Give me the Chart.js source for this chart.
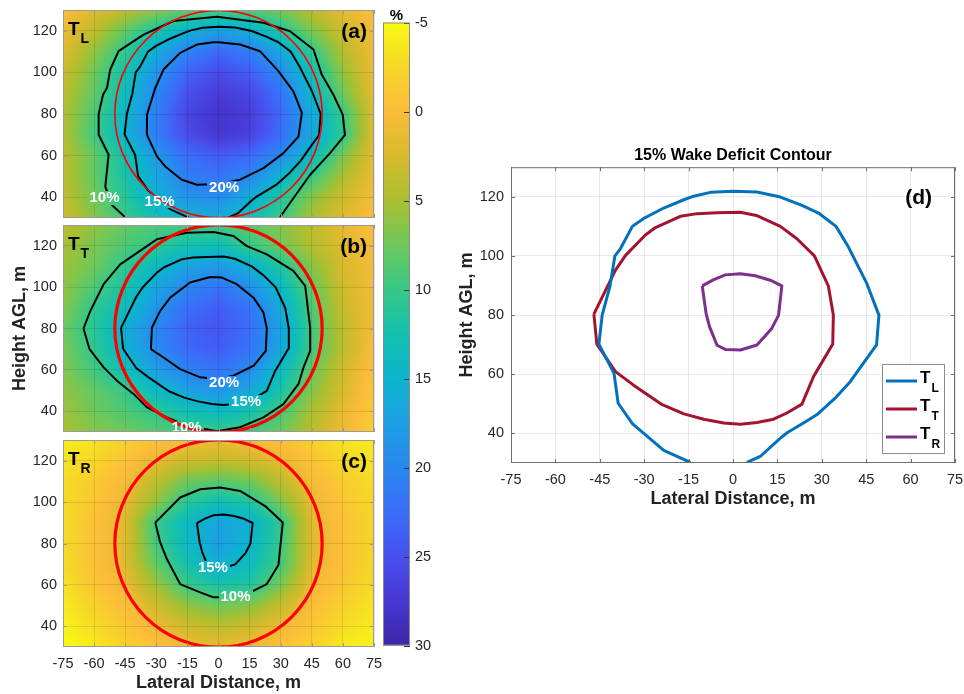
<!DOCTYPE html>
<html>
<head>
<meta charset="utf-8">
<script src="https://cdn.jsdelivr.net/npm/chart.js@4.4.1/dist/chart.umd.min.js"></script>
<style>
    body { margin: 0; background: #fff; }
    #wrap { position: relative; width: 964px; height: 694px; overflow: hidden; }
    canvas { position: absolute; }
</style>
</head>
<body>
<div id="wrap">
    <canvas id="pa" width="386" height="230" style="left:0;top:0"></canvas>
    <canvas id="pb" width="386" height="229" style="left:0;top:215px"></canvas>
    <canvas id="pc" width="386" height="264" style="left:0;top:430px"></canvas>
    <canvas id="cb" width="70" height="694" style="left:370px;top:0"></canvas>
    <canvas id="pd" width="514" height="370" style="left:450px;top:140px"></canvas>
</div>
<script>
const xTicks = [-75, -60, -45, -30, -15, 0, 15, 30, 45, 60, 75]
const yTicks = [40, 60, 80, 100, 120]
const cbTicks = [-5, 0, 5, 10, 15, 20, 25, 30]

// rotor disc
const hubX = 0, hubHeight = 80, rotorRadius = 50

// nodes of the deficit maps (%), rows from top (130 m) to bottom (30 m)
const gridX = [-75, -60, -45, -30, -15, 0, 15, 30, 45, 60, 75]
const gridY = [130, 120, 110, 100, 90, 80, 70, 60, 50, 40, 30]

const deficitL = [
    [0, 2, 4, 6, 8, 9, 8.5, 7, 4, 1.5, 0],
    [1, 4, 8, 12, 15, 17.5, 15.5, 11.5, 7, 3, 0.5],
    [2, 6, 10.5, 16, 20.5, 23, 21, 16.5, 10.5, 4.5, 1],
    [3, 7.5, 12.5, 18.5, 23.5, 25.5, 24, 19.5, 13, 6, 1],
    [4, 8, 13.5, 20, 25, 27, 26, 22, 14.5, 7.5, 1.5],
    [4.5, 9, 14.5, 21, 26, 28, 27, 23, 16.5, 10, 2],
    [4.5, 9.5, 15, 21, 25.5, 27.5, 26.5, 22.5, 16.5, 10.5, 2],
    [4, 8, 12.5, 18, 22.5, 24, 23, 19.5, 14, 7, 1.5],
    [4, 8, 12, 16.5, 21, 22, 20, 15, 10, 5, 1],
    [3.5, 7.5, 11, 15.5, 18.5, 19.5, 16, 11.5, 6.5, 3, 0.5],
    [3, 6.5, 10, 13, 15, 16, 13, 10, 5, 2, 0]
]
const deficitT = [
    [4, 6, 8, 9, 9.5, 9.5, 8.5, 6.5, 4, 1.5, 0],
    [5, 7, 9, 10.5, 12.5, 13, 10, 7.5, 4.5, 2, 0.5],
    [5.5, 7.5, 10.5, 14, 17, 18, 15.5, 11.5, 6.5, 2.5, 0.5],
    [6, 9, 12, 16.5, 20, 22, 19, 14, 8, 3, 0.5],
    [6.5, 10.5, 13.5, 18.5, 22.5, 24, 22, 16, 9, 3.5, 0.5],
    [7.5, 11, 15.5, 20, 23.5, 24.5, 22.5, 17, 9.5, 4, 0.5],
    [7, 10.5, 15, 19.5, 23, 24, 22, 16.5, 9.5, 4, 0],
    [6.5, 9.5, 13, 17.5, 20.5, 22, 19.5, 14, 8, 3, -0.5],
    [6, 8, 10, 14, 17, 18.5, 16.5, 12, 6.5, 2.5, -1],
    [5.5, 7.5, 9, 10.5, 13, 14, 12.5, 9.5, 5, 1.5, -1.5],
    [5, 6.5, 7.5, 8.5, 9.5, 10, 9.5, 7.5, 4, 1, -2]
]
const deficitR = [
    [-4, -3.5, -2, -0.5, 0.5, 1, 0.5, -0.5, -2, -3.5, -4],
    [-3.5, -2.5, -0.5, 1.5, 3, 3.5, 3, 1.5, -0.5, -2.5, -3.5],
    [-3, -1.5, 0.5, 4, 7.5, 8.5, 7.5, 4, 0.5, -1.5, -3],
    [-3, -1, 1.5, 6, 11, 13, 11.5, 7, 1.5, -1, -2.5],
    [-3, -0.5, 2, 10, 14, 17, 15.5, 10.5, 2, -0.5, -2.5],
    [-3, -0.5, 2, 9.5, 14, 17.5, 15, 10, 2, -0.5, -2.5],
    [-3, -0.5, 2, 8, 12.5, 15.5, 13.5, 9.5, 2, -0.5, -2.5],
    [-3.5, -1, 1, 5.5, 10, 12, 11.5, 7, 1, -1, -3],
    [-4, -2, 0, 3, 6, 7.5, 6.5, 3.5, 0, -2, -3.5],
    [-4.5, -3, -1, 1, 3, 4, 3, 1, -1, -3, -4],
    [-5, -4, -2, -0.5, 1, 1.5, 1, -0.5, -2, -4, -4.5]
]

// 15% contours (lateral m, height m) - also the series of panel (d)
const wakeL = [[-14.4, 30.2], [-23.4, 34.3], [-34, 43.3], [-38.8, 50.2], [-40.2, 60.3], [-45.3, 70.2], [-44.2, 80], [-41.6, 89.6], [-39.9, 100], [-38, 102.5], [-34, 110], [-30.3, 112.6], [-23.4, 116.2], [-16.6, 119], [-13.3, 120.2], [-7.6, 121.5], [0, 121.9], [8.1, 121.6], [16, 119.9], [23.3, 117.1], [28.9, 114.5], [34.8, 110], [39, 103], [45.2, 90.7], [49.3, 80], [48.5, 69.9], [44, 63.7], [39.6, 57.5], [34.5, 51.9], [28.3, 46.3], [23.8, 43.5], [18.4, 40.3], [16, 38.4], [9.2, 32.2], [4.7, 30.2]]
const wakeT = [[-47, 80.3], [-46, 70.2], [-39.7, 60.9], [-33.7, 56.4], [-23.9, 49.7], [-16.6, 46.6], [-9.9, 44.8], [-3.1, 43.5], [2.5, 43.1], [8.1, 43.7], [13.7, 44.8], [18.2, 46.9], [23.3, 49.9], [27.2, 59.2], [33.7, 70.2], [33.9, 80], [32.2, 89.9], [27.5, 100], [21.6, 105.8], [16, 110], [7.9, 113.7], [2.5, 114.8], [-5.4, 114.6], [-12.1, 114.3], [-17.8, 113.4], [-26.2, 109.6], [-29.6, 107.1], [-36.3, 100.2], [-39.7, 95.2], [-47, 80.3]]
const wakeR = [[-10.4, 89.9], [-6.5, 92], [-2.6, 93.6], [2.5, 94], [7.5, 93.3], [12.6, 91.8], [16.5, 89.9], [15.4, 80], [13.1, 75.5], [8.1, 69.9], [2.5, 68.2], [-2.6, 68.4], [-5.4, 69.8], [-7.9, 76], [-9.1, 80.6], [-10.4, 89.9]]

// other contour levels
const contourL10 = [[-45, 30.4], [-51.4, 36.3], [-54.6, 45.1], [-53, 60.4], [-57.8, 70], [-57.8, 80], [-55.7, 89.3], [-53.8, 92.5], [-52.2, 101.4], [-48.2, 110.2], [-36.1, 118.2], [-21.7, 124.7], [-0.8, 126.7], [21.7, 123.9], [34.5, 119.8], [45.8, 111], [49.8, 99], [55.4, 89.3], [59.9, 79.7], [61, 70], [53.8, 61.2], [44.2, 50.8], [36.1, 39.5], [29.7, 30.4]]
const contourL20 = [[-34.5, 70], [-34.5, 79.7], [-30.5, 92.5], [-26.5, 101.4], [-18.5, 109.4], [-10.4, 113.4], [-2.4, 114.5], [0, 114.5], [10.4, 113.4], [20, 110.2], [28.9, 100.6], [36.1, 90.9], [40.2, 80.5], [38.6, 69.2], [31.3, 61.2], [21.7, 54], [10.4, 48.4], [0, 46.3], [-10.4, 46], [-17.7, 48.4], [-25.7, 54.8], [-29.7, 59.6], [-34.5, 70]]
const contourT10 = [[-65.1, 80], [-62.2, 70], [-55.4, 61.2], [-49, 54.8], [-41, 48.4], [-34.5, 41.9], [-24.9, 37.1], [-15.3, 33.1], [-0.8, 30.4], [10.4, 32.3], [21.7, 37.1], [31.3, 43.5], [38.6, 53.2], [41, 61.2], [44.2, 69.2], [44.2, 80.5], [41.8, 100.6], [36.1, 107.8], [23.3, 115.8], [13.7, 119.8], [7.2, 124.7], [-2.4, 126.6], [-15.3, 126.3], [-29.7, 123.1], [-34.5, 119.8], [-47.4, 111], [-55.4, 101.4], [-61.8, 88.5], [-65.1, 80]]
const contourT20 = [[-32.6, 70], [-32.1, 80.5], [-28.1, 88.5], [-23.3, 94.9], [-13.7, 102.2], [-4, 104.9], [1.6, 104.6], [8.8, 101.4], [16.9, 94.9], [21.7, 87.7], [23.3, 80], [22.8, 69.2], [16.9, 62], [7.2, 57.2], [-0.8, 55.6], [-8.8, 56.4], [-18.5, 60.4], [-26.5, 66], [-32.6, 70]]
const contourR10 = [[-30.5, 90.1], [-28.1, 80.5], [-24.9, 72.5], [-18.5, 60.4], [-8.8, 56.4], [-2.4, 54], [4, 54], [15.3, 56.4], [23.3, 60.4], [28.9, 69.6], [31, 90.1], [22.5, 98.1], [10.4, 105.4], [0.8, 107], [-8.8, 106.2], [-18.5, 102.2], [-30.5, 90.1]]

// contour labels (lateral, height, text)
const labelsL = [[-55, 39.5, '10%'], [-28.4, 38, '15%'], [2.7, 44.3, '20%']]
const labelsT = [[2.7, 53.6, '20%'], [13.3, 44.7, '15%'], [-15.4, 31.8, '10%']]
const labelsR = [[-2.7, 68.3, '15%'], [8.2, 54.4, '10%']]

const seriesSubs = ['L', 'T', 'R']
const seriesColors = ['#0072bd', '#a2142f', '#7e2f8e']

// parula-like map, reversed
const cmapValues = [-5, -2.5, 0, 2.5, 5, 7.5, 10, 12.5, 15, 17.5, 20, 22.5, 25, 27.5, 30]
const cmapColors = [[249, 250, 20], [246, 214, 40], [252, 188, 58], [215, 186, 45], [170, 191, 48], [110, 200, 90], [55, 200, 135], [20, 192, 175], [12, 180, 206], [30, 158, 228], [40, 135, 240], [58, 110, 250], [72, 80, 238], [71, 55, 210], [62, 38, 168]]

const family = '"Liberation Sans", Helvetica, Arial, sans-serif'
const textColor = '#262626'
const tickFont = { family: family, size: 14.5 }
const axisFont = { family: family, size: 18, weight: 'bold' }
Chart.defaults.font.family = family
Chart.defaults.color = textColor

const pts = arr => arr.map(p => ({ x: p[0], y: p[1] }))
const rgb = c => 'rgb(' + c.map(Math.round).join(',') + ')'

// fixed axis size, no label overflow padding
function fixWidth(w) {
    return s => { s.width = w; s.paddingTop = 0; s.paddingBottom = 0; s.paddingLeft = 0; s.paddingRight = 0 }
}
function fixHeight(h) {
    return s => { s.height = h; s.paddingTop = 0; s.paddingBottom = 0; s.paddingLeft = 0; s.paddingRight = 0 }
}

function colorAt(v) {
    if (v <= cmapValues[0]) return cmapColors[0]
    for (let i = 1; i < cmapValues.length; i++) {
        if (v <= cmapValues[i]) {
            const f = (v - cmapValues[i - 1]) / (cmapValues[i] - cmapValues[i - 1])
            const a = cmapColors[i - 1], b = cmapColors[i]
            return [a[0] + (b[0] - a[0]) * f, a[1] + (b[1] - a[1]) * f, a[2] + (b[2] - a[2]) * f]
        }
    }
    return cmapColors[cmapColors.length - 1]
}

function fieldAt(grid, vx, vy) {
    let i = 0, j = 0
    while (i < gridX.length - 2 && vx > gridX[i + 1]) i++
    while (j < gridY.length - 2 && vy < gridY[j + 1]) j++
    const fx = Math.min(1, Math.max(0, (vx - gridX[i]) / (gridX[i + 1] - gridX[i])))
    const fy = Math.min(1, Math.max(0, (vy - gridY[j]) / (gridY[j + 1] - gridY[j])))
    return grid[j][i] * (1 - fx) * (1 - fy) + grid[j][i + 1] * fx * (1 - fy) +
        grid[j + 1][i] * (1 - fx) * fy + grid[j + 1][i + 1] * fx * fy
}

function drawBox(chart, color) {
    const { ctx, chartArea: a, scales: { x, y } } = chart
    ctx.save()
    ctx.strokeStyle = color
    ctx.lineWidth = 1
    ctx.strokeRect(a.left + 0.5, a.top + 0.5, a.right - a.left - 1, a.bottom - a.top - 1)
    ctx.beginPath()
    x.ticks.forEach(t => {
        const px = Math.round(x.getPixelForValue(t.value)) + 0.5
        ctx.moveTo(px, a.bottom); ctx.lineTo(px, a.bottom - 4)
        ctx.moveTo(px, a.top); ctx.lineTo(px, a.top + 4)
    })
    y.ticks.forEach(t => {
        const py = Math.round(y.getPixelForValue(t.value)) + 0.5
        ctx.moveTo(a.left, py); ctx.lineTo(a.left + 4, py)
        ctx.moveTo(a.right, py); ctx.lineTo(a.right - 4, py)
    })
    ctx.stroke()
    ctx.restore()
}

function drawTag(ctx, x, y, sub, big, small, drop) {
    ctx.save()
    ctx.fillStyle = '#000'
    ctx.textAlign = 'left'
    ctx.textBaseline = 'alphabetic'
    ctx.font = 'bold ' + big + 'px ' + family
    ctx.fillText('T', x, y)
    const w = ctx.measureText('T').width
    ctx.font = 'bold ' + small + 'px ' + family
    ctx.fillText(sub, x + w + 1, y + drop)
    ctx.restore()
}

function heatmap(grid) {
    return {
        id: 'heatmap',
        beforeDraw(chart) {
            const { ctx, chartArea: a, scales: { x, y } } = chart
            const left = Math.round(a.left), top = Math.round(a.top)
            const w = Math.round(a.right) - left, h = Math.round(a.bottom) - top
            const img = ctx.createImageData(w, h)
            for (let py = 0; py < h; py++) {
                const vy = y.getValueForPixel(top + py + 0.5)
                for (let px = 0; px < w; px++) {
                    const c = colorAt(fieldAt(grid, x.getValueForPixel(left + px + 0.5), vy))
                    const k = (py * w + px) * 4
                    img.data[k] = c[0]; img.data[k + 1] = c[1]; img.data[k + 2] = c[2]; img.data[k + 3] = 255
                }
            }
            ctx.putImageData(img, left, top)
            chart.$heat = { img, left, top }
        }
    }
}

function overlay(cfg) {
    return {
        id: 'overlay',
        afterDatasetsDraw(chart) {
            const { ctx, chartArea: a, scales: { x, y } } = chart
            const heat = chart.$heat
            ctx.save()
            ctx.font = 'bold 15px ' + family
            // break the contour under each label
            cfg.labels.forEach(l => {
                const w = Math.round(ctx.measureText(l[2]).width + 4), h = 14
                const bx = Math.round(x.getPixelForValue(l[0]) - w / 2) - heat.left
                const by = Math.round(y.getPixelForValue(l[1]) - h / 2) - heat.top
                ctx.putImageData(heat.img, heat.left, heat.top, bx, by, w, h)
            })
            ctx.beginPath()
            ctx.rect(a.left, a.top, a.right - a.left, a.bottom - a.top)
            ctx.clip()
            ctx.beginPath()
            const r = x.getPixelForValue(hubX + rotorRadius) - x.getPixelForValue(hubX)
            ctx.arc(x.getPixelForValue(hubX), y.getPixelForValue(hubHeight), r, 0, Math.PI * 2)
            ctx.strokeStyle = '#ff0000'
            ctx.lineWidth = cfg.ringWidth
            ctx.stroke()
            ctx.fillStyle = '#fff'
            ctx.textAlign = 'center'
            ctx.textBaseline = 'middle'
            cfg.labels.forEach(l => ctx.fillText(l[2], x.getPixelForValue(l[0]), y.getPixelForValue(l[1])))
            ctx.restore()
            drawBox(chart, '#9a9a9a')
            drawTag(ctx, a.left + 5, a.top + 25, cfg.sub, 19, 14, 8)
            ctx.save()
            ctx.font = 'bold 21px ' + family
            ctx.fillStyle = '#000'
            ctx.textAlign = 'right'
            ctx.fillText(cfg.letter, a.right - 7, a.top + 28)
            ctx.restore()
        }
    }
}

function heatPanel(id, cfg) {
    return new Chart(document.getElementById(id), {
        type: 'scatter',
        data: {
            datasets: cfg.contours.map(c => ({
                data: pts(c),
                showLine: true,
                borderColor: '#000',
                borderWidth: 2,
                borderJoinStyle: 'round',
                pointRadius: 0,
                clip: 0
            }))
        },
        options: {
            responsive: false,
            animation: false,
            events: [],
            layout: { padding: { top: 10, right: 12, left: 0, bottom: 0 } },
            plugins: { legend: { display: false }, tooltip: { enabled: false } },
            scales: {
                x: {
                    type: 'linear', min: -75, max: 75,
                    afterBuildTicks: s => { s.ticks = xTicks.map(v => ({ value: v })) },
                    afterFit: fixHeight(cfg.xHeight),
                    grid: { color: 'rgba(0,0,0,0.1)', drawTicks: false },
                    border: { display: false },
                    ticks: { display: cfg.showX, padding: 8, font: tickFont, color: textColor, maxRotation: 0, autoSkip: false },
                    title: { display: cfg.showX, text: 'Lateral Distance, m', font: axisFont, color: '#222', padding: 0 }
                },
                y: {
                    type: 'linear', min: 30, max: 130,
                    afterBuildTicks: s => { s.ticks = yTicks.map(v => ({ value: v })) },
                    afterFit: fixWidth(63),
                    grid: { color: 'rgba(0,0,0,0.1)', drawTicks: false },
                    border: { display: false },
                    ticks: { padding: 6, font: tickFont, color: textColor, autoSkip: false },
                    title: { display: cfg.showY, text: 'Height AGL, m', font: axisFont, color: '#222', padding: { top: 9, bottom: 0 } }
                }
            }
        },
        plugins: [heatmap(cfg.grid), overlay(cfg)]
    })
}

heatPanel('pa', { grid: deficitL, contours: [contourL10, wakeL, contourL20], labels: labelsL, sub: 'L', letter: '(a)', ringWidth: 1.6, xHeight: 12, showX: false, showY: false })
heatPanel('pb', { grid: deficitT, contours: [contourT10, wakeT, contourT20], labels: labelsT, sub: 'T', letter: '(b)', ringWidth: 3.2, xHeight: 12, showX: false, showY: true })
heatPanel('pc', { grid: deficitR, contours: [contourR10, wakeR], labels: labelsR, sub: 'R', letter: '(c)', ringWidth: 3.2, xHeight: 47, showX: true, showY: false })

const colorbar = {
    id: 'colorbar',
    beforeDraw(chart) {
        const { ctx, chartArea: a, scales: { y } } = chart
        const y0 = y.getPixelForValue(cmapValues[0])
        const y1 = y.getPixelForValue(cmapValues[cmapValues.length - 1])
        const g = ctx.createLinearGradient(0, y0, 0, y1)
        cmapValues.forEach((v, i) => g.addColorStop((y.getPixelForValue(v) - y0) / (y1 - y0), rgb(cmapColors[i])))
        ctx.fillStyle = g
        ctx.fillRect(a.left, a.top, a.right - a.left, a.bottom - a.top)
    },
    afterDraw(chart) {
        const { ctx, chartArea: a, scales: { y } } = chart
        ctx.save()
        ctx.strokeStyle = '#333'
        ctx.lineWidth = 1
        ctx.beginPath()
        y.ticks.forEach(t => {
            const py = Math.round(y.getPixelForValue(t.value)) + 0.5
            ctx.moveTo(a.right - 6, py); ctx.lineTo(a.right, py)
        })
        ctx.stroke()
        ctx.strokeStyle = '#8c8c8c'
        ctx.strokeRect(a.left + 0.5, a.top + 0.5, a.right - a.left - 1, a.bottom - a.top - 1)
        ctx.font = 'bold 15px ' + family
        ctx.fillStyle = '#000'
        ctx.textAlign = 'center'
        ctx.fillText('%', (a.left + a.right) / 2, a.top - 3)
        ctx.restore()
    }
}

new Chart(document.getElementById('cb'), {
    type: 'scatter',
    data: { datasets: [] },
    options: {
        responsive: false,
        animation: false,
        events: [],
        layout: { padding: { left: 13, top: 22.5, bottom: 48.5, right: 0 } },
        plugins: { legend: { display: false }, tooltip: { enabled: false } },
        scales: {
            x: { display: false, min: 0, max: 1 },
            y: {
                position: 'right', reverse: true, min: -5, max: 30,
                afterBuildTicks: s => { s.ticks = cbTicks.map(v => ({ value: v })) },
                afterFit: fixWidth(30),
                grid: { display: false, drawTicks: false },
                border: { display: false },
                ticks: { padding: 5, font: tickFont, color: textColor, autoSkip: false }
            }
        }
    },
    plugins: [colorbar]
})

const legendBox = {
    id: 'legendBox',
    afterDraw(chart) {
        const { ctx, chartArea: a } = chart
        drawBox(chart, '#6e6e6e')
        ctx.save()
        ctx.font = 'bold 21px ' + family
        ctx.fillStyle = '#000'
        ctx.textAlign = 'right'
        ctx.fillText('(d)', a.right - 23, a.top + 37)
        const bx = a.right - 73, by = a.bottom - 99, bw = 62, bh = 89
        ctx.fillStyle = '#fff'
        ctx.fillRect(bx, by, bw, bh)
        ctx.strokeStyle = '#8c8c8c'
        ctx.lineWidth = 1
        ctx.strokeRect(bx + 0.5, by + 0.5, bw, bh)
        chart.data.datasets.forEach((ds, i) => {
            const ly = by + 17 + i * 28
            ctx.strokeStyle = ds.borderColor
            ctx.lineWidth = 3
            ctx.beginPath()
            ctx.moveTo(bx + 4, ly)
            ctx.lineTo(bx + 35, ly)
            ctx.stroke()
            drawTag(ctx, bx + 38, ly + 2, seriesSubs[i], 17, 12, 9)
        })
        ctx.restore()
    }
}

new Chart(document.getElementById('pd'), {
    type: 'scatter',
    data: {
        datasets: [wakeL, wakeT, wakeR].map((s, i) => ({
            label: 'T' + seriesSubs[i],
            data: pts(s),
            showLine: true,
            borderColor: seriesColors[i],
            borderWidth: 3,
            borderJoinStyle: 'round',
            pointRadius: 0,
            clip: 0
        }))
    },
    options: {
        responsive: false,
        animation: false,
        events: [],
        layout: { padding: { left: 0, right: 9, top: 0, bottom: 0 } },
        plugins: {
            legend: { display: false },
            tooltip: { enabled: false },
            title: {
                display: true, text: '15% Wake Deficit Contour', fullSize: false, color: '#000',
                font: { family: family, size: 16, weight: 'bold' }, padding: { top: 6, bottom: 2 }
            }
        },
        scales: {
            x: {
                type: 'linear', min: -75, max: 75,
                afterBuildTicks: s => { s.ticks = xTicks.map(v => ({ value: v })) },
                afterFit: fixHeight(47),
                grid: { color: 'rgba(0,0,0,0.09)', drawTicks: false },
                border: { display: false },
                ticks: { padding: 8, font: tickFont, color: textColor, maxRotation: 0, autoSkip: false },
                title: { display: true, text: 'Lateral Distance, m', font: axisFont, color: '#222', padding: 0 }
            },
            y: {
                type: 'linear', min: 30, max: 130,
                afterBuildTicks: s => { s.ticks = yTicks.map(v => ({ value: v })) },
                afterFit: fixWidth(61),
                grid: { color: 'rgba(0,0,0,0.09)', drawTicks: false },
                border: { display: false },
                ticks: { padding: 7, font: tickFont, color: textColor, autoSkip: false },
                title: { display: true, text: 'Height AGL, m', font: axisFont, color: '#222', padding: { top: 6, bottom: 0 } }
            }
        }
    },
    plugins: [legendBox]
})
</script>
</body>
</html>
